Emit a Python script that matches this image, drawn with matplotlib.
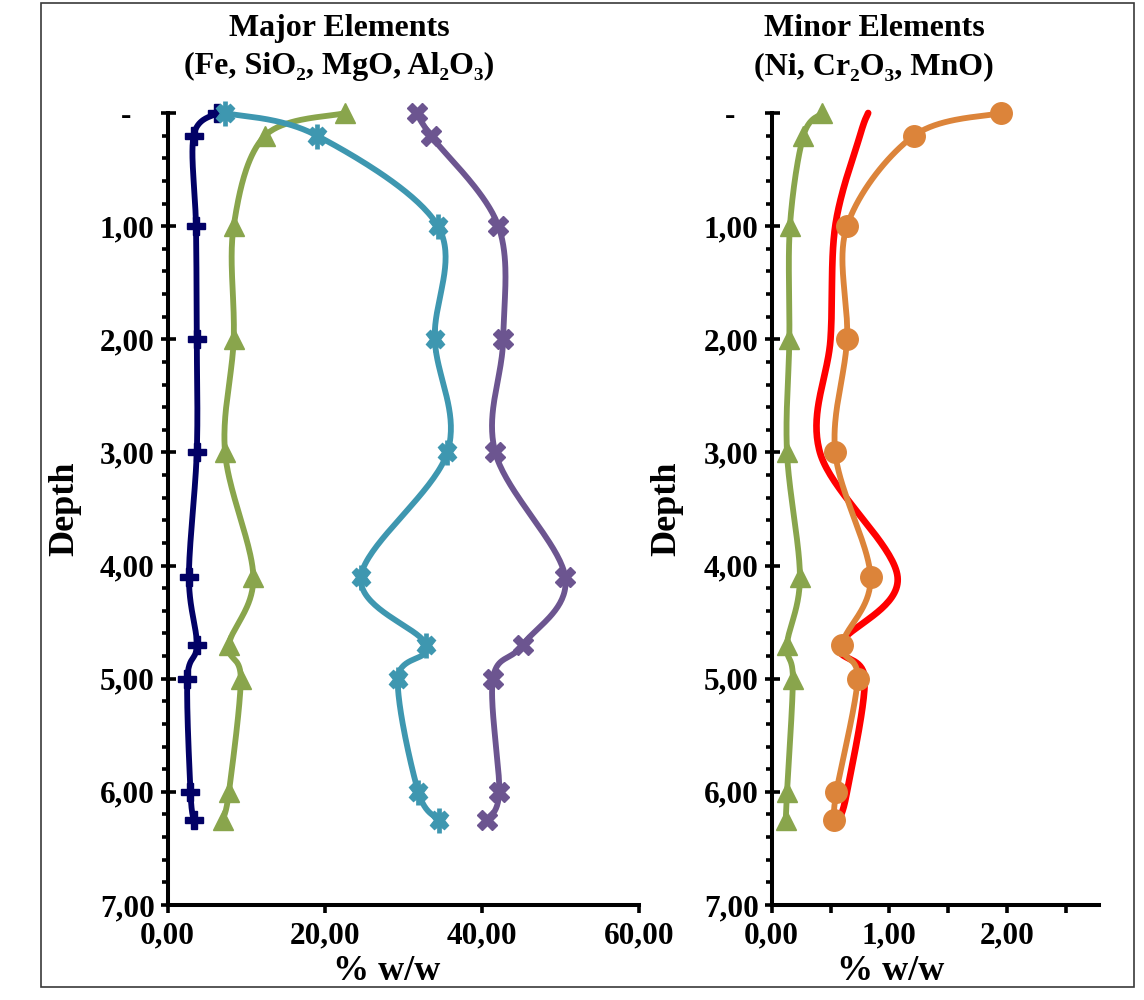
import numpy as np
import matplotlib
matplotlib.use("Agg")
import matplotlib.pyplot as plt
from matplotlib.ticker import FixedLocator, MultipleLocator
from matplotlib.patches import Rectangle

plt.rcParams['font.family'] = ['Liberation Serif', 'DejaVu Serif']
plt.rcParams['font.weight'] = 'bold'

# Sampling depths
depth = [0.0, 0.2, 1.0, 2.0, 3.0, 4.1, 4.7, 5.0, 6.0, 6.25]

# Major elements (% w/w)
fe = [6.3, 3.3, 3.6, 3.7, 3.7, 2.7, 3.7, 2.5, 2.9, 3.3]
mgo = [7.3, 19.0, 34.4, 34.0, 35.6, 24.6, 32.9, 29.3, 31.9, 34.6]
sio2 = [31.7, 33.5, 42.1, 42.7, 41.7, 50.6, 45.2, 41.4, 42.2, 40.6]
al2o3 = [22.6, 12.4, 8.4, 8.4, 7.3, 10.9, 7.8, 9.3, 7.8, 7.0]

# Minor elements (% w/w)
ni = [0.82, 0.75, 0.54, 0.50, 0.41, 1.07, 0.58, 0.79, 0.64, 0.57]
cr2o3 = [1.95, 1.21, 0.64, 0.64, 0.54, 0.84, 0.60, 0.73, 0.55, 0.53]
mno = [0.43, 0.27, 0.155, 0.15, 0.13, 0.24, 0.13, 0.18, 0.13, 0.12]

depth_ticks = [0, 1, 2, 3, 4, 5, 6, 7]
depth_labels = ['-   ', '1,00', '2,00', '3,00', '4,00', '5,00', '6,00', '7,00']
major_xticks = [0, 20, 40, 60]
major_xlabels = ['0,00', '20,00', '40,00', '60,00']
minor_xticks = [0, 0.5, 1.0, 1.5, 2.0, 2.5]
minor_xlabels = ['0,00', '', '1,00', '', '2,00', '']

W, H = 1144, 1000
fig = plt.figure(figsize=(W / 100, H / 100), dpi=100)


def px_axes(x0, x1, y0, y1):
    return fig.add_axes([x0 / W, 1 - y1 / H, (x1 - x0) / W, (y1 - y0) / H])


ax1 = px_axes(167.7, 639.0, 113.0, 905.0)
ax2 = px_axes(771.7, 1099.3, 113.0, 905.0)

ax1.set_xlim(0, 60)
ax2.set_xlim(0, 2.785)
for ax in (ax1, ax2):
    ax.set_ylim(7, 0)
    for s in ('top', 'right'):
        ax.spines[s].set_visible(False)
    for s in ('left', 'bottom'):
        ax.spines[s].set_linewidth(2.9)
        ax.spines[s].set_capstyle('projecting')
    ax.yaxis.set_major_locator(FixedLocator(depth_ticks))
    ax.set_yticklabels(depth_labels)
    ax.yaxis.set_minor_locator(MultipleLocator(0.2))
    ax.tick_params(axis='y', which='major', direction='inout', length=10.8,
                   width=2.6, labelsize=22.5, pad=4)
    ax.tick_params(axis='y', which='minor', direction='out', length=4.3, width=2.6)
    ax.tick_params(axis='x', which='major', direction='out', length=5.5,
                   width=2.6, labelsize=22.5, pad=6)
    for lab in ax.get_xticklabels() + ax.get_yticklabels():
        lab.set_fontweight('bold')

ax1.xaxis.set_major_locator(FixedLocator(major_xticks))
ax1.set_xticklabels(major_xlabels, fontweight='bold')
ax2.xaxis.set_major_locator(FixedLocator(minor_xticks))
ax2.set_xticklabels(minor_xlabels, fontweight='bold')


def smooth(ax, xs, ys, n=40):
    """Excel-style smoothed line: Catmull-Rom Bezier in display space."""
    pts = ax.transData.transform(np.column_stack([xs, ys]))
    P = np.vstack([pts[0], pts, pts[-1]])
    t = np.linspace(0, 1, n)[:, None]
    segs = []
    for i in range(1, len(P) - 2):
        p0, p1, p2, p3 = P[i - 1], P[i], P[i + 1], P[i + 2]
        c1 = p1 + (p2 - p0) / 6
        c2 = p2 - (p3 - p1) / 6
        segs.append((1 - t) ** 3 * p1 + 3 * (1 - t) ** 2 * t * c1
                    + 3 * (1 - t) * t ** 2 * c2 + t ** 3 * p2)
    curve = ax.transData.inverted().transform(np.vstack(segs))
    return curve[:, 0], curve[:, 1]


def series(ax, vals, color, marker=None, ms=10, lw=4.2, z=2, extra=None):
    sx, sy = smooth(ax, vals, depth)
    ax.plot(sx, sy, color=color, lw=lw, solid_capstyle='round', zorder=z,
            clip_on=False)
    if marker:
        ax.plot(vals, depth, ls='none', marker=marker, ms=ms, color=color,
                mec=color, zorder=z + 0.5, clip_on=False)
    if extra:
        ax.plot(vals, depth, ls='none', marker=extra[0], ms=extra[1],
                mew=extra[2], color=color, zorder=z + 0.5, clip_on=False)


NAVY = '#020166'
TEAL = '#3e97b0'
PURPLE = '#6c5590'
GREEN = '#89a54c'
ORANGE = '#dc843a'
RED = '#ff0000'

series(ax1, fe, NAVY, 'P', ms=13, z=2)
series(ax1, al2o3, GREEN, '^', ms=15, z=3)
series(ax1, mgo, TEAL, 'X', ms=13.5, z=4, extra=('|', 18, 3.4))
series(ax1, sio2, PURPLE, 'X', ms=14, z=5)

series(ax2, mno, GREEN, '^', ms=15, z=3)
series(ax2, ni, RED, None, lw=4.8, z=4)
series(ax2, cr2o3, ORANGE, 'o', ms=15.5, z=5)

serif_bold = dict(fontweight='bold', family=['Liberation Serif', 'DejaVu Serif'])

# Panel titles
fig.text(339 / W, 1 - 36 / H, 'Major Elements', ha='center', va='baseline',
         fontsize=23, **serif_bold)
fig.text(339 / W, 1 - 74 / H, '(Fe, SiO\u2082, MgO, Al\u2082O\u2083)', ha='center',
         va='baseline', fontsize=23, **serif_bold)
fig.text(874 / W, 1 - 36 / H, 'Minor Elements', ha='center', va='baseline',
         fontsize=23, **serif_bold)
fig.text(874 / W, 1 - 74 / H, '(Ni, Cr\u2082O\u2083, MnO)', ha='center',
         va='baseline', fontsize=23, **serif_bold)

# Axis titles
for cx in (387, 891):
    fig.text(cx / W, 1 - 971 / H, '% w/w', ha='center', va='center',
             fontsize=26, **serif_bold)
for cx in (65, 667):
    fig.text(cx / W, 1 - 509 / H, 'Depth', ha='center', va='center',
             rotation=90, fontsize=26, **serif_bold)

# Outer frame
fig.patches.append(Rectangle((41 / W, 1 - 987 / H), (1134 - 41) / W,
                             (987 - 3) / H, transform=fig.transFigure,
                             fill=False, edgecolor='#3a3a3a', lw=1.2))

fig.savefig('out.png', dpi=100, facecolor='white')
